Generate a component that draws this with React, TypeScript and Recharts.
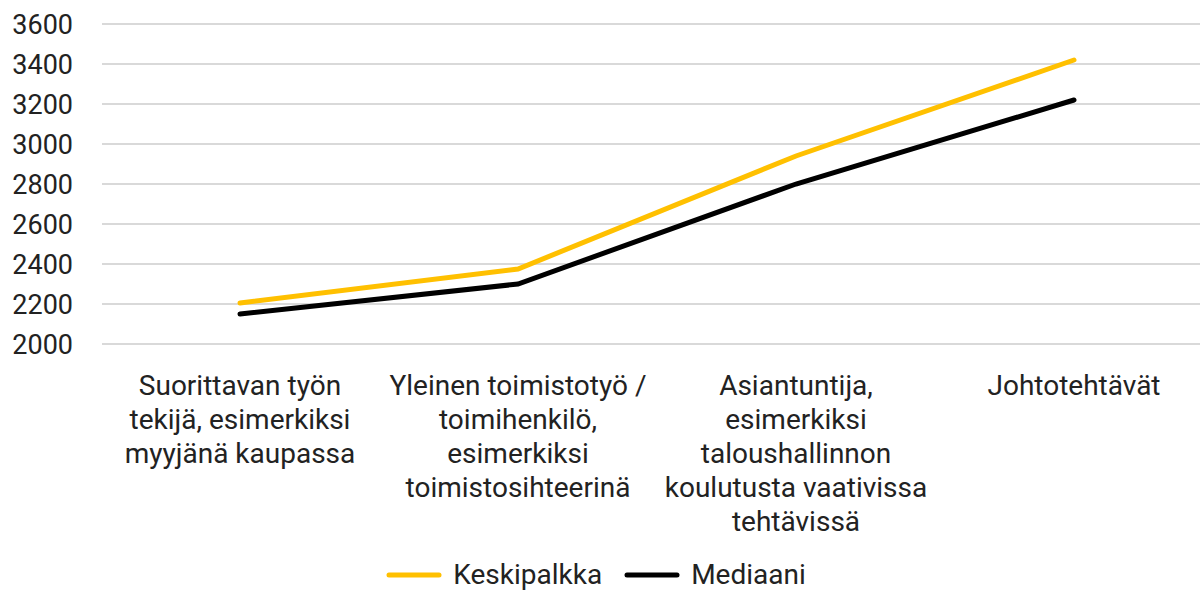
import { LineChart, Line, XAxis, YAxis, CartesianGrid, Legend } from "recharts";

// ammattiryhmät
const categories = [
  "Suorittavan työn tekijä, esimerkiksi myyjänä kaupassa",
  "Yleinen toimistotyö / toimihenkilö, esimerkiksi toimistosihteerinä",
  "Asiantuntija, esimerkiksi taloushallinnon koulutusta vaativissa tehtävissä",
  "Johtotehtävät",
];

// akselin rivitetyt nimet
const categoryLines = [
  ["Suorittavan työn", "tekijä, esimerkiksi", "myyjänä kaupassa"],
  ["Yleinen toimistotyö /", "toimihenkilö,", "esimerkiksi", "toimistosihteerinä"],
  ["Asiantuntija,", "esimerkiksi", "taloushallinnon", "koulutusta vaativissa", "tehtävissä"],
  ["Johtotehtävät"],
];

const keskipalkka = [2205, 2375, 2940, 3420];
const mediaani = [2150, 2300, 2800, 3220];

const yTicks = [2000, 2200, 2400, 2600, 2800, 3000, 3200, 3400, 3600];

const data = categories.map((name, i) => ({
  name,
  keskipalkka: keskipalkka[i],
  mediaani: mediaani[i],
}));

const FONT = "Roboto, sans-serif";
const TEXT = "#222";

const CategoryTick = (props: any) => {
  const { x, y, index } = props;
  const lines = categoryLines[index] || [];
  return (
    <text x={x} y={y} textAnchor="middle" fill={TEXT} fontSize={28} fontFamily={FONT}>
      {lines.map((l, i) => (
        <tspan key={i} x={x} dy={i === 0 ? 51 : 34}>
          {l}
        </tspan>
      ))}
    </text>
  );
};

const LegendContent = () => {
  const items = [
    { label: "Keskipalkka", color: "#FFC000" },
    { label: "Mediaani", color: "#000000" },
  ];
  return (
    <div
      style={{
        display: "flex",
        justifyContent: "center",
        fontFamily: FONT,
        fontSize: 28,
        lineHeight: "30px",
        height: 30,
        color: TEXT,
      }}
    >
      {items.map((it) => (
        <div key={it.label} style={{ display: "flex", alignItems: "center", marginRight: 22 }}>
          <svg width={56} height={10} style={{ marginRight: 11 }}>
            <line x1={3} y1={5} x2={53} y2={5} stroke={it.color} strokeWidth={5} strokeLinecap="round" />
          </svg>
          <span>{it.label}</span>
        </div>
      ))}
    </div>
  );
};

export default function App() {
  return (
    <div style={{ position: "absolute", left: 0, top: 0, width: 1200, height: 592, overflow: "hidden", background: "#fff" }}>
      <LineChart width={1214} height={592} data={data} margin={{ top: 24, right: 0, left: 0, bottom: 2 }}>
        <CartesianGrid vertical={false} stroke="#d9d9d9" strokeWidth={2} />
        <XAxis
          dataKey="name"
          axisLine={false}
          tickLine={false}
          tickSize={0}
          tickMargin={0}
          interval={0}
          height={216}
          padding={{ left: 138, right: 140 }}
          tick={<CategoryTick />}
        />
        <YAxis
          domain={[2000, 3600]}
          ticks={yTicks}
          width={102}
          axisLine={false}
          tickLine={false}
          tickSize={0}
          tickMargin={29}
          tick={{ fill: TEXT, fontSize: 27, fontFamily: FONT }}
        />
        <Legend verticalAlign="bottom" height={30} content={<LegendContent />} />
        <Line
          dataKey="keskipalkka"
          name="Keskipalkka"
          stroke="#FFC000"
          strokeWidth={5}
          strokeLinecap="round"
          dot={false}
          isAnimationActive={false}
        />
        <Line
          dataKey="mediaani"
          name="Mediaani"
          stroke="#000000"
          strokeWidth={5}
          strokeLinecap="round"
          dot={false}
          isAnimationActive={false}
        />
      </LineChart>
    </div>
  );
}
